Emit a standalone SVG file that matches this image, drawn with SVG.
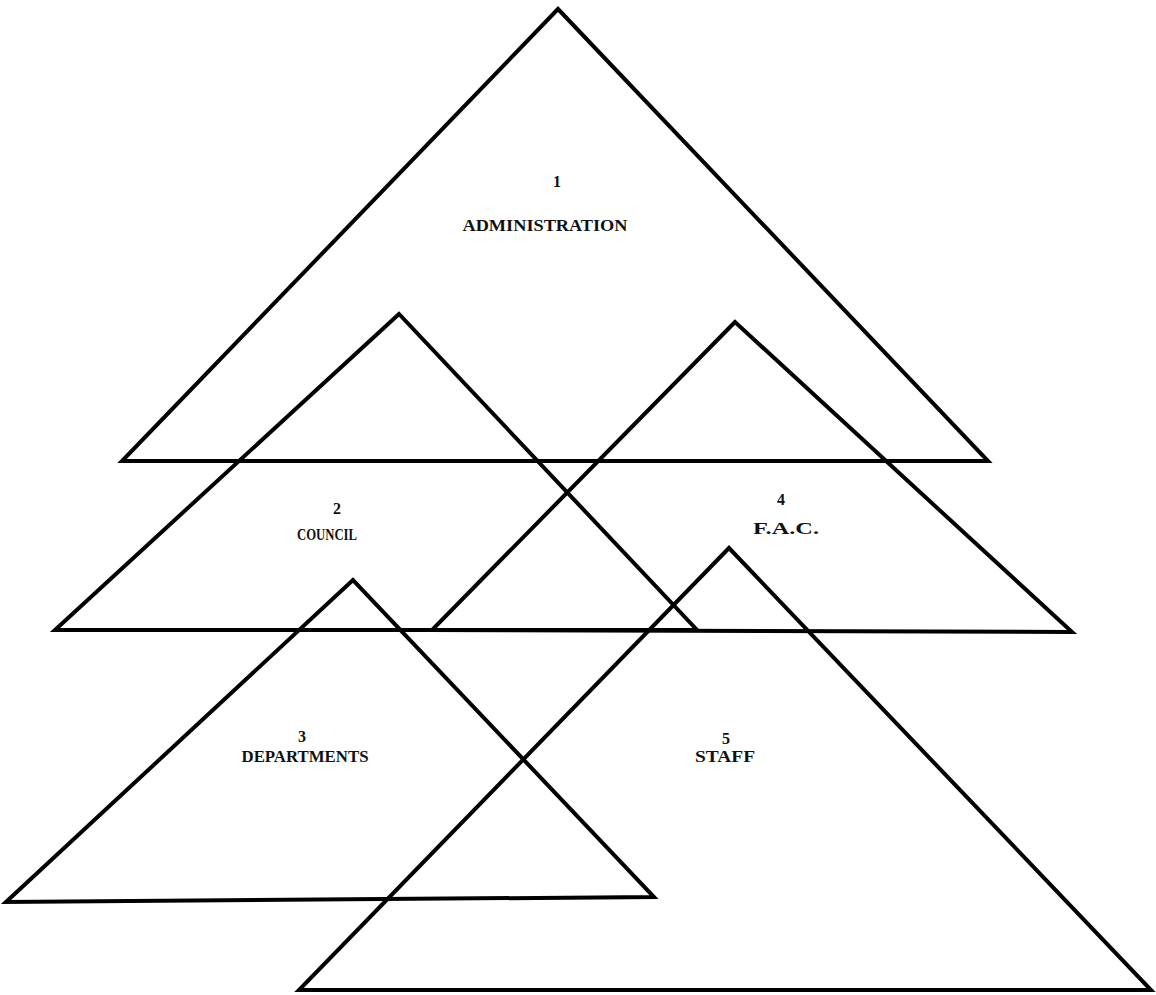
<svg xmlns="http://www.w3.org/2000/svg" width="1156" height="995" viewBox="0 0 1156 995">
<style>
.tri{fill:none;stroke:#000;stroke-width:4;stroke-linejoin:miter}
.t{font-family:"Liberation Serif","DejaVu Serif",serif;font-size:16px;font-weight:bold;fill:#111;text-anchor:middle}
</style>
<rect width="1156" height="995" fill="#fff"/>
<g id="node1"><polygon class="tri" points="558,9 122,461 988,461"/><text class="t" x="557" y="187">1</text><text class="t" x="545" y="231" textLength="165" lengthAdjust="spacingAndGlyphs">ADMINISTRATION</text></g>
<g id="node2"><polygon class="tri" points="399,314 55,630 697,630"/><text class="t" x="337" y="514">2</text><text class="t" x="327" y="540" textLength="60" lengthAdjust="spacingAndGlyphs">COUNCIL</text></g>
<g id="node4"><polygon class="tri" points="735,322 432,630 1072,632"/><text class="t" x="781" y="505">4</text><text class="t" x="786" y="534" textLength="66" lengthAdjust="spacingAndGlyphs">F.A.C.</text></g>
<g id="node3"><polygon class="tri" points="353,580 6,902 654,897"/><text class="t" x="302" y="742">3</text><text class="t" x="305" y="762" textLength="127" lengthAdjust="spacingAndGlyphs">DEPARTMENTS</text></g>
<g id="node5"><polygon class="tri" points="729,548 299,990 1151,990"/><text class="t" x="726" y="744">5</text><text class="t" x="725" y="762" textLength="60" lengthAdjust="spacingAndGlyphs">STAFF</text></g>
<g id="connectors"></g>
</svg>
